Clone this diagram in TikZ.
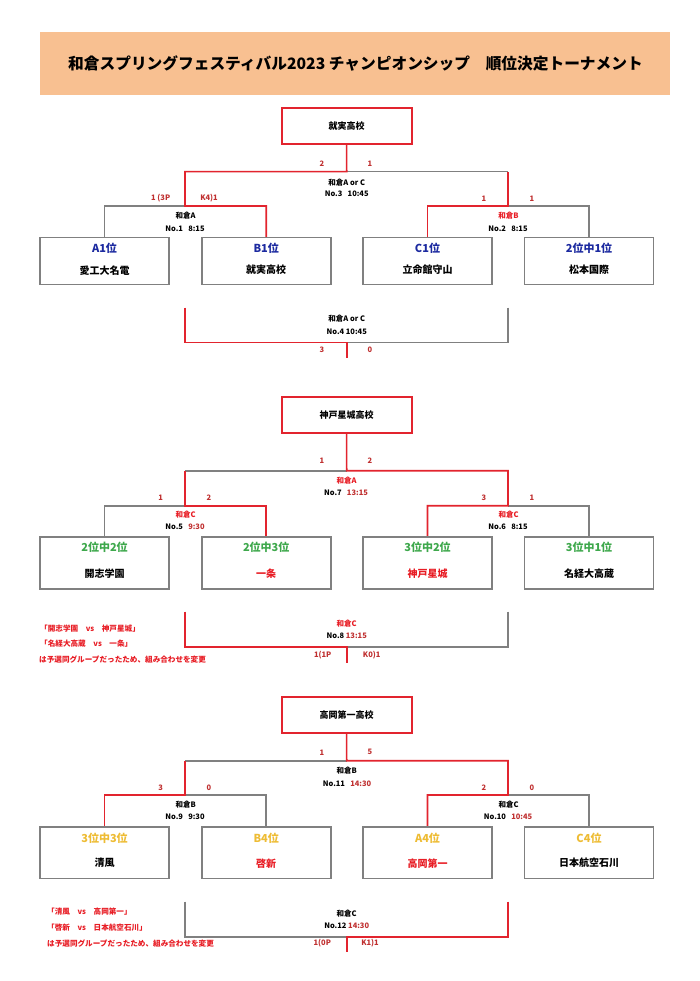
\documentclass[tikz,border=0pt]{standalone}
\usepackage{fontspec}
\setmainfont{Noto Sans CJK JP}
\usetikzlibrary{calc}
\definecolor{hdr}{RGB}{248,192,145}
\definecolor{lred}{RGB}{226,36,46}
\definecolor{lgray}{RGB}{128,128,128}
\definecolor{sred}{RGB}{192,48,48}
\definecolor{vred}{RGB}{232,28,36}
\definecolor{tblue}{RGB}{28,42,160}
\definecolor{tgreen}{RGB}{62,168,76}
\definecolor{tgold}{RGB}{238,188,52}
\tikzset{
  fs/.style={font=\fontsize{#1}{#1}\selectfont\bfseries},
  win/.style={draw=lred, line width=1.6pt},
  lose/.style={draw=lgray, line width=1.6pt},
  teambox/.style={draw=lgray, line width=1.6pt, minimum width=129pt, minimum height=#1, inner sep=0pt},
  champbox/.style={draw=lred, line width=1.8pt, minimum width=130pt, minimum height=36pt, inner sep=0pt, fs=9},
  seed/.style={inner sep=0pt, fs=11},
  team/.style={inner sep=0pt, fs=10},
  score/.style={inner sep=0pt, fs=7.5, text=sred},
  venue/.style={inner sep=0pt, fs=7.5},
  note/.style={inner sep=0pt, fs=7.6, text=vred, anchor=west},
}
\begin{document}
\begin{tikzpicture}[x=1pt, y=-1pt]
\useasboundingbox (0,0) rectangle (700,981);
\fill[white] (0,0) rectangle (700,981);
% header
\node[fill=hdr, minimum width=630pt, minimum height=63pt, inner sep=0pt] (hdr) at (355,63.3) {};
\node[inner sep=0pt, fs=15.7] (title) at (355.5,63.3) {和倉スプリングフェスティバル2023 チャンピオンシップ　順位決定トーナメント};

%%%%%%%% Section 1
\node[champbox] (c1) at (346.6,126.3) {就実高校};
\node[teambox=46.6pt] (b11) at (104.5,261) {};
\node[teambox=46.6pt] (b12) at (266.2,261) {};
\node[teambox=46.6pt] (b13) at (427.5,261) {};
\node[teambox=46.6pt] (b14) at (589,261) {};
\node[seed, text=tblue] (s11) at ([yshift=-11.3pt]b11.north) {A1位};
\node[team] (t11) at ([yshift=-33.3pt]b11.north) {愛工大名電};
\node[seed, text=tblue] (s12) at ([yshift=-11.3pt]b12.north) {B1位};
\node[team] (t12) at ([yshift=-33.3pt]b12.north) {就実高校};
\node[seed, text=tblue] (s13) at ([yshift=-11.3pt]b13.north) {C1位};
\node[team] (t13) at ([yshift=-33.3pt]b13.north) {立命館守山};
\node[seed, text=tblue] (s14) at ([yshift=-11.3pt]b14.north) {2位中1位};
\node[team] (t14) at ([yshift=-33.3pt]b14.north) {松本国際};
\coordinate (m1) at (185,206);
\coordinate (m2) at (508,206);
\coordinate (m3) at (346.7,171.7);
\coordinate (p4l) at (185,307.7);
\coordinate (p4r) at (508,307.7);
\coordinate (m4) at (346.7,342.3);
\coordinate (e4) at (346.7,358.3);
\draw[lose] (b11.north) |- (m1);
\draw[lose] (b14.north) |- (m2);
\draw[lose] (m2 |- m3) -- (m3);
\draw[lose] (p4r) |- (m4);
\draw[win] (b12.north) |- (m1) |- (m3) -- (c1.south);
\draw[win] (b13.north) |- (m2) -- (m2 |- m3);
\draw[win] (p4l) |- (m4) -- (e4);
\node[score] (r31) at (322,163.3) {2};
\node[score] (r32) at (370,163.3) {1};
\node[venue] (v3) at (346.7,182.3) {和倉A or C};
\node[venue] (n3) at (346.7,194) {No.3\hspace{0.7em}10:45};
\node[score] (r11) at (160.7,198.3) {1 (3P};
\node[score] (r12) at (209,198.3) {K4)1};
\node[score] (r21) at (484,198.3) {1};
\node[score] (r22) at (532,198.3) {1};
\node[venue] (v1) at (185.7,215.7) {和倉A};
\node[venue] (n1) at (185,228.3) {No.1\hspace{0.7em}8:15};
\node[venue, text=vred] (v2) at (508.5,215.7) {和倉B};
\node[venue] (n2) at (508,228.3) {No.2\hspace{0.7em}8:15};
\node[venue] (v4) at (346.7,319) {和倉A or C};
\node[venue] (n4) at (346.7,331.7) {No.4 10:45};
\node[score] (r41) at (322,350) {3};
\node[score] (r42) at (370,350) {0};

%%%%%%%% Section 2
\node[champbox] (c2) at (346.6,415.3) {神戸星城高校};
\node[teambox=52pt] (b21) at (104.5,562.7) {};
\node[teambox=52pt] (b22) at (266.2,562.7) {};
\node[teambox=52pt] (b23) at (427.5,562.7) {};
\node[teambox=52pt] (b24) at (589,562.7) {};
\node[seed, text=tgreen] (s21) at ([yshift=-11.6pt]b21.north) {2位中2位};
\node[team] (t21) at ([yshift=-37.6pt]b21.north) {開志学園};
\node[seed, text=tgreen] (s22) at ([yshift=-11.6pt]b22.north) {2位中3位};
\node[team, text=vred] (t22) at ([yshift=-37.6pt]b22.north) {一条};
\node[seed, text=tgreen] (s23) at ([yshift=-11.6pt]b23.north) {3位中2位};
\node[team, text=vred] (t23) at ([yshift=-37.6pt]b23.north) {神戸星城};
\node[seed, text=tgreen] (s24) at ([yshift=-11.6pt]b24.north) {3位中1位};
\node[team] (t24) at ([yshift=-37.6pt]b24.north) {名経大高蔵};
\coordinate (m5) at (185,505.7);
\coordinate (m6) at (508,505.7);
\coordinate (m7) at (346.7,470.7);
\coordinate (p8l) at (185,611.7);
\coordinate (p8r) at (508,611.7);
\coordinate (m8) at (346.7,646.7);
\coordinate (e8) at (346.7,662.7);
\draw[lose] (b21.north) |- (m5);
\draw[lose] (b24.north) |- (m6);
\draw[lose] (m5 |- m7) -- (m7);
\draw[lose] (p8r) |- (m8);
\draw[win] (b22.north) |- (m5) -- (m5 |- m7);
\draw[win] (b23.north) |- (m6) |- (m7) -- (c2.south);
\draw[win] (p8l) |- (m8) -- (e8);
\node[score] (r71) at (322,461) {1};
\node[score] (r72) at (370,461) {2};
\node[venue, text=vred] (v7) at (346.7,480.7) {和倉A};
\node[venue] (n7) at (346,492.7) {No.7\hspace{0.7em}\textcolor{sred}{13:15}};
\node[score] (r51) at (160.7,497.3) {1};
\node[score] (r52) at (209,497.3) {2};
\node[score] (r61) at (484,497.3) {3};
\node[score] (r62) at (532,497.3) {1};
\node[venue, text=vred] (v5) at (185.7,515) {和倉C};
\node[venue] (n5) at (185,526.7) {No.5\hspace{0.7em}\textcolor{sred}{9:30}};
\node[venue, text=vred] (v6) at (508.5,515) {和倉C};
\node[venue] (n6) at (508,526.7) {No.6\hspace{0.7em}8:15};
\node[venue, text=vred] (v8) at (346.7,623.3) {和倉C};
\node[venue] (n8) at (346.7,636) {No.8 \textcolor{sred}{13:15}};
\node[score] (r81) at (322.7,655) {1(1P};
\node[score] (r82) at (371.7,655) {K0)1};
\node[note] (a1) at (40,628.3) {「開志学園　vs　神戸星城」};
\node[note] (a2) at (40,643.3) {「名経大高蔵　vs　一条」};
\node[note] (a3) at (39,660) {は予選同グループだったため、組み合わせを変更};

%%%%%%%% Section 3
\node[champbox] (c3) at (346.6,715) {高岡第一高校};
\node[teambox=51.6pt] (b31) at (104.5,852.5) {};
\node[teambox=51.6pt] (b32) at (266.2,852.5) {};
\node[teambox=51.6pt] (b33) at (427.5,852.5) {};
\node[teambox=51.6pt] (b34) at (589,852.5) {};
\node[seed, text=tgold] (s31) at ([yshift=-12.3pt]b31.north) {3位中3位};
\node[team] (t31) at ([yshift=-37.3pt]b31.north) {清風};
\node[seed, text=tgold] (s32) at ([yshift=-12.3pt]b32.north) {B4位};
\node[team, text=vred] (t32) at ([yshift=-37.3pt]b32.north) {啓新};
\node[seed, text=tgold] (s33) at ([yshift=-12.3pt]b33.north) {A4位};
\node[team, text=vred] (t33) at ([yshift=-37.3pt]b33.north) {高岡第一};
\node[seed, text=tgold] (s34) at ([yshift=-12.3pt]b34.north) {C4位};
\node[team] (t34) at ([yshift=-37.3pt]b34.north) {日本航空石川};
\coordinate (m9) at (185,795);
\coordinate (m10) at (508,795);
\coordinate (m11) at (346.7,760.7);
\coordinate (p12l) at (185,901.7);
\coordinate (p12r) at (508,901.7);
\coordinate (m12) at (346.7,936.7);
\coordinate (e12) at (346.7,952.3);
\draw[lose] (b32.north) |- (m9);
\draw[lose] (b34.north) |- (m10);
\draw[lose] (m9 |- m11) -- (m11);
\draw[lose] (p12l) |- (m12);
\draw[win] (b31.north) |- (m9) -- (m9 |- m11);
\draw[win] (b33.north) |- (m10) |- (m11) -- (c3.south);
\draw[win] (p12r) |- (m12) -- (e12);
\node[score] (r111) at (322,752.3) {1};
\node[score] (r112) at (370,752.3) {5};
\node[venue] (v11) at (346.7,771) {和倉B};
\node[venue] (n11) at (347,784) {No.11\hspace{0.7em}\textcolor{sred}{14:30}};
\node[score] (r91) at (160.7,787.3) {3};
\node[score] (r92) at (209,787.3) {0};
\node[score] (r101) at (484,787.3) {2};
\node[score] (r102) at (532,787.3) {0};
\node[venue] (v9) at (185.7,804.3) {和倉B};
\node[venue] (n9) at (185,817) {No.9\hspace{0.7em}9:30};
\node[venue] (v10) at (508.5,804.3) {和倉C};
\node[venue] (n10) at (508,817) {No.10\hspace{0.7em}\textcolor{sred}{10:45}};
\node[venue] (v12) at (346.7,914) {和倉C};
\node[venue] (n12) at (346.7,925.7) {No.12 \textcolor{sred}{14:30}};
\node[score] (r121) at (322.3,943.3) {1(0P};
\node[score] (r122) at (370,943.3) {K1)1};
\node[note] (a4) at (47,912) {「清風　vs　高岡第一」};
\node[note] (a5) at (47,927.7) {「啓新　vs　日本航空石川」};
\node[note] (a6) at (47,943.3) {は予選同グループだったため、組み合わせを変更};
\end{tikzpicture}
\end{document}
